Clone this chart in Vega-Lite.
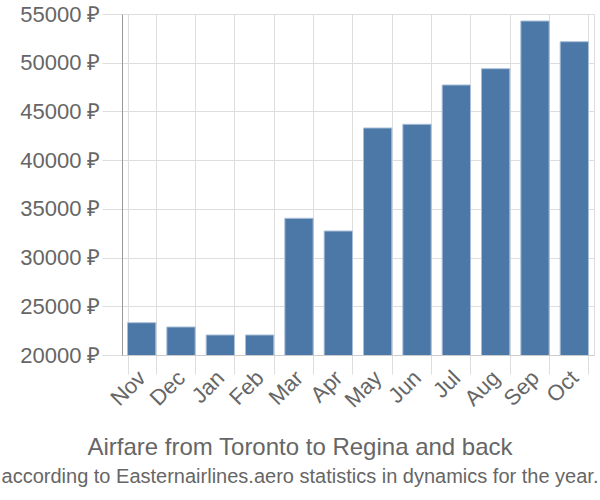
{
  "$schema": "https://vega.github.io/schema/vega-lite/v6.json",
  "width": 472,
  "height": 341,
  "autosize": {"type": "none"},
  "padding": {"left": 122, "top": 14, "right": 6, "bottom": 145},
  "background": "white",
  "data": {"values": [
    {"month": "Nov", "price": 23315},
    {"month": "Dec", "price": 22874},
    {"month": "Jan", "price": 22053},
    {"month": "Feb", "price": 22053},
    {"month": "Mar", "price": 34030},
    {"month": "Apr", "price": 32727},
    {"month": "May", "price": 43300},
    {"month": "Jun", "price": 43678},
    {"month": "Jul", "price": 47713},
    {"month": "Aug", "price": 49386},
    {"month": "Sep", "price": 54280},
    {"month": "Oct", "price": 52157}
  ]},
  "title": {
    "text": "Airfare from Toronto to Regina and back",
    "subtitle": "according to Easternairlines.aero statistics in dynamics for the year.",
    "orient": "bottom",
    "anchor": "middle",
    "frame": "group",
    "dx": -58,
    "offset": 25,
    "font": "Liberation Sans",
    "fontSize": 24,
    "fontWeight": "normal",
    "color": "#666666",
    "subtitleFont": "Liberation Sans",
    "subtitleFontSize": 20,
    "subtitleColor": "#666666",
    "subtitlePadding": 7
  },
  "config": {
    "view": {"stroke": "#dddddd", "strokeWidth": 1},
    "font": "Liberation Sans"
  },
  "mark": {"type": "bar", "color": "#4c78a8", "stroke": "#a9bfd8", "strokeWidth": 1, "clip": true},
  "encoding": {
    "x": {
      "field": "month",
      "type": "nominal",
      "sort": null,
      "scale": {"paddingInner": 0.28, "paddingOuter": 0.14},
      "axis": {
        "title": null,
        "grid": true,
        "gridColor": "#dddddd",
        "bandPosition": 0,
        "tickBand": "extent",
        "tickColor": "#dddddd",
        "tickSize": 19,
        "domainColor": "#cccccc",
        "labelAngle": -45,
        "labelAlign": "right",
        "labelBaseline": "middle",
        "labelFontSize": 22,
        "labelColor": "#666666",
        "labelPadding": 0,
        "labelFont": "Liberation Sans"
      }
    },
    "y": {
      "field": "price",
      "type": "quantitative",
      "scale": {"domain": [20000, 55000], "nice": false, "zero": false},
      "axis": {
        "title": null,
        "values": [20000, 25000, 30000, 35000, 40000, 45000, 50000, 55000],
        "labelExpr": "datum.value + ' ₽'",
        "grid": true,
        "gridColor": "#dddddd",
        "tickColor": "#dddddd",
        "tickSize": 20,
        "domainColor": "#999999",
        "domainWidth": 1,
        "labelFontSize": 22,
        "labelColor": "#666666",
        "labelPadding": 2,
        "labelFont": "Liberation Sans"
      }
    }
  }
}
